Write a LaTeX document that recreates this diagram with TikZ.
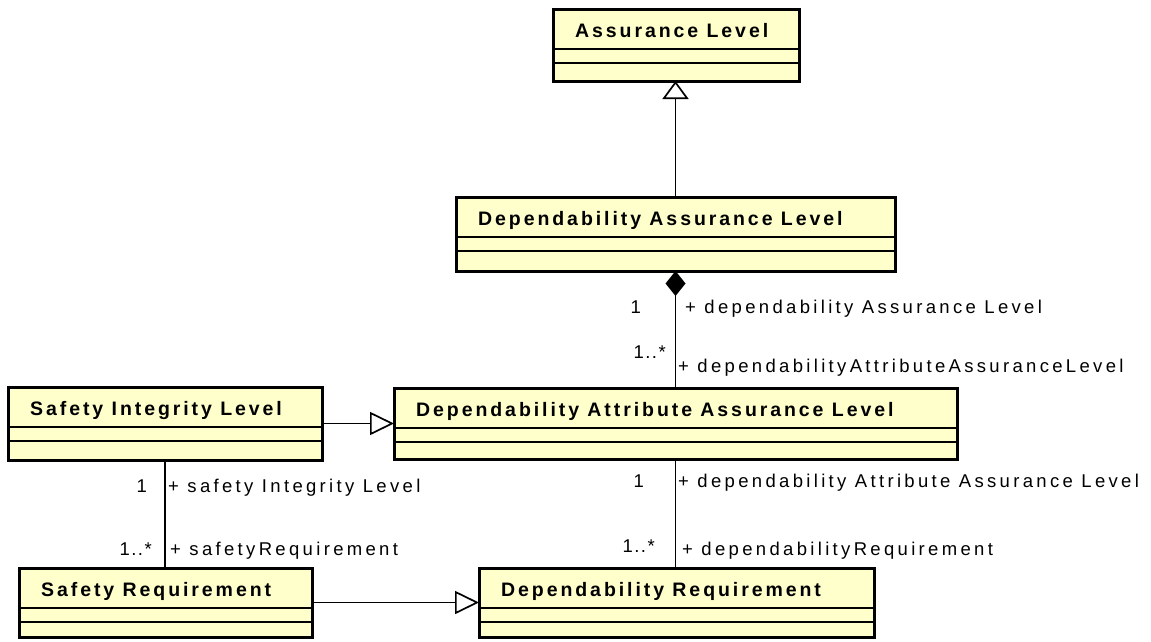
\documentclass[tikz,border=0pt]{standalone}
\usepackage{fontspec}
\setmainfont{Liberation Sans}
\newfontfamily\titlefont[LetterSpace=15]{Liberation Sans}
\newfontfamily\rolefont[LetterSpace=18]{Liberation Sans}
\newfontfamily\multfont[LetterSpace=8]{Liberation Sans}
\usetikzlibrary{arrows.meta}
\definecolor{classfill}{RGB}{255,255,204}
\tikzset{
  classbox/.style={draw=black, line width=3pt, fill=classfill, rectangle, inner sep=0pt, outer sep=0pt, anchor=north west},
  sepline/.style={draw=black, line width=1.6pt},
  classtitle/.style={anchor=base west, inner sep=0pt, font=\titlefont\bfseries\fontsize{19.5}{21}\selectfont},
  rolelabel/.style={inner sep=0pt, anchor=base west, font=\rolefont\fontsize{18.5}{20}\selectfont},
  multlabel/.style={inner sep=0pt, anchor=base east, font=\multfont\fontsize{18.5}{20}\selectfont},
  connector/.style={draw=black, line width=1.9pt},
  generalization/.style={connector, -{Triangle[open, length=24pt, width=23pt, line width=1.7pt]}},
  upgeneralization/.style={connector, -{Triangle[open, length=18pt, width=26pt, line width=1.7pt]}},
  composition/.style={connector, -{Diamond[length=25pt, width=20pt]}},
}
% a UML class box: name, top-left corner, width, height, title
\newcommand{\umlclass}[6]{%
  \node[classbox, minimum width=#4pt, minimum height=#5pt] (#1) at (#2,#3) {};
  \draw[sepline] ([yshift=-40pt]#1.north west) -- ([yshift=-40pt]#1.north east);
  \draw[sepline] ([yshift=-54pt]#1.north west) -- ([yshift=-54pt]#1.north east);
  \node[classtitle] (#1-title) at ([xshift=22pt,yshift=-28.5pt]#1.north west) {#6};
}
\begin{document}
\begin{tikzpicture}[x=1pt, y=-1pt]
  \useasboundingbox (0,0) rectangle (1151,641);

  % classes
  \umlclass{al}{553}{9}{246}{72}{Assurance Level}
  \umlclass{dal}{456}{197}{439}{74}{Dependability Assurance Level}
  \umlclass{daal}{394}{388}{563}{71}{Dependability Attribute Assurance Level}
  \umlclass{sil}{8}{387}{314}{73}{Safety Integrity Level}
  \umlclass{sr}{19}{568}{293}{69}{Safety Requirement}
  \umlclass{dr}{479}{568}{395}{69}{Dependability Requirement}

  % generalizations
  \draw[upgeneralization] (dal.north) -- (dal.north |- al.south);
  \draw[generalization] (sil.east) -- (sil.east -| daal.west);
  \draw[generalization] (sr.east) -- (sr.east -| dr.west);

  % composition and associations
  \draw[composition] (dal.south |- daal.north) -- (dal.south);
  \draw[connector] (sil.south) -- (sil.south |- sr.north);
  \draw[connector] (daal.south) -- (daal.south |- dr.north);

  % multiplicities and role names
  \node[multlabel] (m1) at (641,313) {1};
  \node[rolelabel] (r1) at (685,313) {+ dependability Assurance Level};
  \node[multlabel] (m2) at (666,358) {1..*};
  \node[rolelabel] (r2) at (678,372) {+ dependabilityAttributeAssuranceLevel};

  \node[multlabel] (m3) at (147,492) {1};
  \node[rolelabel] (r3) at (168,492) {+ safety Integrity Level};
  \node[multlabel] (m4) at (152,555) {1..*};
  \node[rolelabel] (r4) at (170,555) {+ safetyRequirement};

  \node[multlabel] (m5) at (644,487) {1};
  \node[rolelabel] (r5) at (678,487) {+ dependability Attribute Assurance Level};
  \node[multlabel] (m6) at (655,552) {1..*};
  \node[rolelabel] (r6) at (682,555) {+ dependabilityRequirement};
\end{tikzpicture}
\end{document}
